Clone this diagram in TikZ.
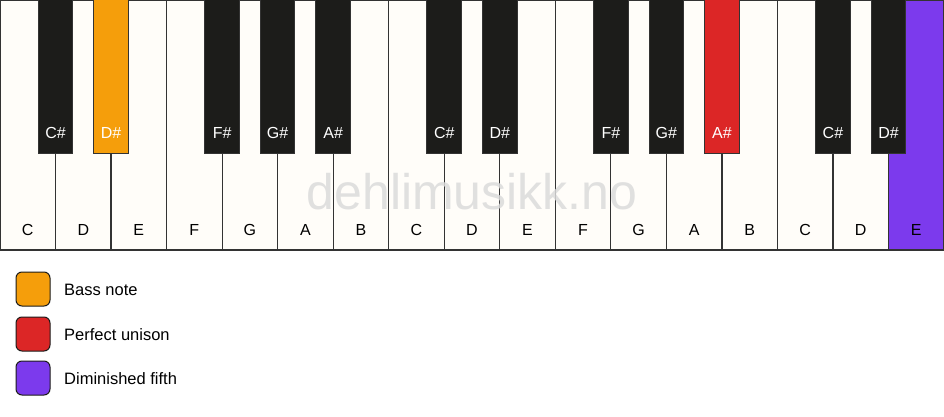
\documentclass[tikz,border=0pt]{standalone}
\usepackage{fontspec}
\setmainfont{Liberation Sans}
\definecolor{ivory}{HTML}{FFFDF9}
\definecolor{keyblack}{HTML}{1C1C1A}
\definecolor{keyline}{HTML}{333333}
\definecolor{bassc}{HTML}{F59E0B}
\definecolor{unisonc}{HTML}{DC2626}
\definecolor{dimc}{HTML}{7C3AED}
\tikzset{
  x=1pt, y=-1pt,
  whitekey/.style={draw=keyline, line width=1.2pt, fill=ivory},
  blackkey/.style={draw=keyline, line width=1pt, fill=keyblack},
  wlabel/.style={font=\fontsize{16}{18}\selectfont, text=black},
  blabel/.style={font=\fontsize{16}{18}\selectfont, text=white},
  legbox/.style={draw=keyblack, line width=1pt, rounded corners=6pt, minimum width=34pt, minimum height=34pt, inner sep=0pt},
  legtext/.style={font=\fontsize{16.5}{18}\selectfont, anchor=west, inner sep=0pt},
}
\begin{document}
\begin{tikzpicture}
\useasboundingbox (0,0) rectangle (944,417);
\fill[white] (0,0) rectangle (944,417);
\def\w{55.53}
% white keys
\foreach \i/\n in {0/C,1/D,2/E,3/F,4/G,5/A,6/B,7/C,8/D,9/E,10/F,11/G,12/A,13/B,14/C,15/D}{
  \path[whitekey] ({\i*\w},0) rectangle ({(\i+1)*\w},250);
  \node[wlabel] (w\i) at ({(\i+0.5)*\w},230) {\n};
}
\path[whitekey, fill=dimc] ({16*\w},0) rectangle ({17*\w},250);
\node[wlabel] (w16) at ({16.5*\w},230) {E};
% watermark
\node[font=\fontsize{50}{52}\selectfont, text=black!14, opacity=0.85] (wm) at (472,192) {dehlimusikk.no};
% black keys
\foreach \b/\n in {1/C\#,4/F\#,5/G\#,6/A\#,8/C\#,9/D\#,11/F\#,12/G\#,15/C\#,16/D\#}{
  \path[blackkey] ({\b*\w-17.3},-1) rectangle ({\b*\w+17.3},153);
  \node[blabel] (b\b) at ({\b*\w},133) {\n};
}
\path[blackkey, fill=bassc] ({2*\w-17.3},-1) rectangle ({2*\w+17.3},153);
\node[blabel] (b2) at ({2*\w},133) {D\#};
\path[blackkey, fill=unisonc] ({13*\w-17.3},-1) rectangle ({13*\w+17.3},153);
\node[blabel] (b13) at ({13*\w},133) {A\#};
% legend
\node[legbox, fill=bassc] (l1) at (33,289) {};
\node[legtext] (t1) at (64,290) {Bass note};
\node[legbox, fill=unisonc] (l2) at (33,334) {};
\node[legtext] (t2) at (64,335) {Perfect unison};
\node[legbox, fill=dimc] (l3) at (33,378) {};
\node[legtext] (t3) at (64,379) {Diminished fifth};
\end{tikzpicture}
\end{document}
